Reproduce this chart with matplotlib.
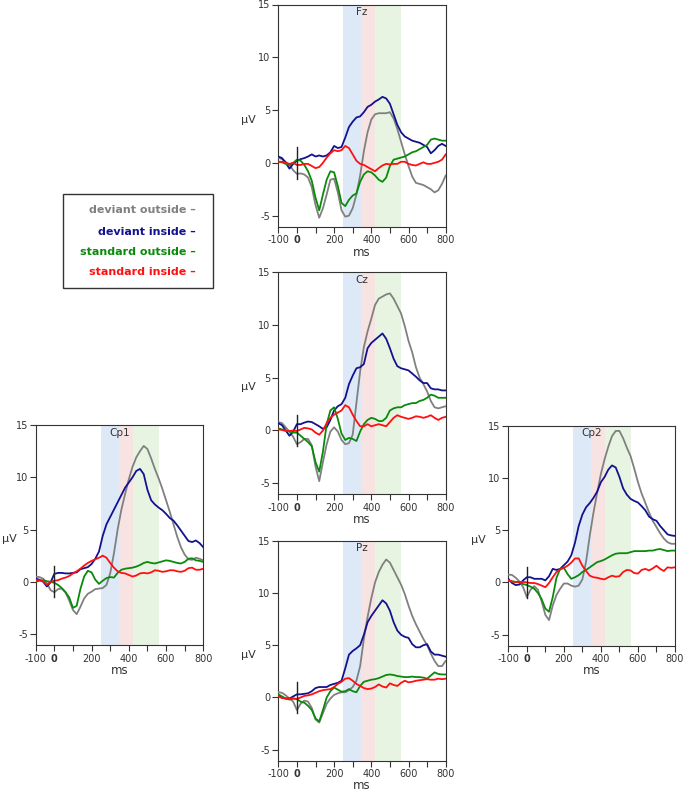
import matplotlib
matplotlib.use('Agg')
import matplotlib.pyplot as plt
from matplotlib.transforms import blended_transform_factory
from matplotlib.patches import Rectangle

# ---------------- data ----------------
time_ms = list(range(-100, 801, 20))

series_names = ["deviant outside", "deviant inside", "standard outside", "standard inside"]
series_colors = ["#808080", "#12128f", "#0a8a0a", "#ff1010"]

fz_dev_out = [0.5, 0.35, 0.1, -0.2, -0.7, -1.05, -1.0, -1.1, -1.4, -2.3,
              -4.0, -5.2, -4.3, -3.0, -1.6, -1.5, -2.8, -4.5, -5.1, -5.0,
              -4.3, -3.0, -1.2, 1.1, 2.9, 4.1, 4.6, 4.7, 4.7, 4.7,
              4.8, 4.2, 3.2, 2.0, 0.8, -0.3, -1.3, -1.9, -2.0, -2.1,
              -2.3, -2.5, -2.8, -2.6, -2.0, -1.2]
fz_dev_in = [0.6, 0.45, 0.0, -0.55, -0.1, 0.2, 0.35, 0.45, 0.6, 0.8,
             0.6, 0.7, 0.6, 0.7, 1.0, 1.6, 1.4, 1.5, 2.4, 3.4,
             3.9, 4.3, 4.4, 4.8, 5.3, 5.5, 5.8, 6.0, 6.25, 6.1,
             5.6, 4.6, 3.6, 2.9, 2.5, 2.3, 2.1, 2.0, 1.9, 1.7,
             1.5, 0.9, 1.2, 1.6, 1.8, 1.6]
fz_std_out = [0.1, 0.05, -0.1, -0.2, 0.0, 0.3, 0.2, -0.2, -0.8, -1.7,
              -3.3, -4.5, -3.0, -1.6, -0.8, -0.9, -2.2, -3.8, -4.1, -3.5,
              -3.1, -2.9, -1.8, -1.1, -0.8, -0.9, -1.2, -1.6, -1.8, -1.4,
              -0.3, 0.3, 0.4, 0.5, 0.6, 0.8, 1.0, 1.1, 1.3, 1.5,
              1.7, 2.2, 2.3, 2.2, 2.1, 2.1]
fz_std_in = [0.1, 0.1, 0.0, -0.1, 0.0, -0.2, -0.2, -0.1, -0.1, -0.3,
             -0.5, -0.4, 0.0, 0.5, 0.9, 1.2, 1.1, 1.2, 1.6, 1.4,
             0.8, 0.2, -0.1, -0.2, -0.4, -0.6, -0.8, -0.5, -0.25, -0.1,
             -0.15, -0.1, -0.1, 0.1, 0.1, -0.1, -0.2, -0.25, -0.1, 0.05,
             -0.1, -0.1, 0.0, 0.1, 0.3, 0.8]

cz_dev_out = [0.8, 0.7, 0.3, -0.1, -0.6, -1.3, -1.1, -0.8, -0.8, -1.4,
              -3.4, -4.8, -3.0, -1.3, -0.1, 0.3, -0.1, -0.9, -1.3, -1.2,
              -0.4, 2.6, 5.6, 7.9, 9.4, 10.6, 11.9, 12.5, 12.7, 12.9,
              13.0, 12.5, 11.8, 11.1, 9.9, 8.5, 7.4, 6.0, 5.0, 4.4,
              3.7, 2.8, 2.2, 2.1, 2.2, 2.3]
cz_dev_in = [0.7, 0.5, 0.0, -0.5, -0.1, 0.6, 0.6, 0.75, 0.85, 0.8,
             0.6, 0.4, 0.15, 0.3, 1.0, 1.9, 2.3, 2.5, 3.1, 4.4,
             5.2, 5.9, 6.0, 6.3, 7.8, 8.3, 8.6, 8.9, 9.2, 8.7,
             7.8, 6.8, 6.1, 5.9, 5.8, 5.7, 5.4, 5.1, 4.75, 4.5,
             4.5, 4.0, 3.9, 3.9, 3.8, 3.8]
cz_std_out = [0.2, 0.1, 0.0, -0.1, -0.2, -0.2, -0.5, -0.8, -1.1, -1.5,
              -3.0, -3.9, -2.0, 0.6, 1.9, 2.2, 1.1, -0.3, -0.9, -0.7,
              -0.8, -1.0, -0.1, 0.6, 1.0, 1.2, 1.1, 0.9, 0.9, 1.2,
              1.9, 2.1, 2.2, 2.2, 2.4, 2.5, 2.6, 2.6, 2.8, 2.9,
              3.1, 3.4, 3.3, 3.1, 3.1, 3.1]
cz_std_in = [0.1, 0.05, -0.05, -0.05, 0.0, -0.05, 0.1, 0.25, 0.2, 0.1,
             -0.2, -0.4, 0.0, 0.7, 1.2, 1.5, 1.7, 1.9, 2.4, 2.2,
             1.5, 0.9, 0.4, 0.4, 0.6, 0.4, 0.5, 0.6, 0.5, 0.4,
             0.8, 1.2, 1.45, 1.3, 1.2, 1.1, 1.2, 1.35, 1.3, 1.2,
             1.3, 1.45, 1.2, 1.0, 1.2, 1.3]

pz_dev_out = [0.5, 0.45, 0.2, -0.1, -0.4, -1.2, -0.6, -0.3, -0.4, -1.0,
              -2.1, -2.4, -1.5, -0.6, -0.1, 0.25, 0.4, 0.5, 0.5, 0.7,
              1.0, 1.6, 3.0, 5.6, 7.7, 9.5, 11.0, 12.0, 12.7, 13.2,
              12.9, 12.2, 11.5, 10.8, 9.9, 8.8, 7.8, 7.0, 6.3, 5.6,
              5.0, 4.2, 3.5, 3.0, 3.0, 3.5]
pz_dev_in = [0.2, 0.0, -0.1, -0.1, 0.1, 0.3, 0.3, 0.35, 0.4, 0.6,
             0.9, 1.0, 1.0, 1.0, 1.2, 1.3, 1.4, 1.6, 2.8, 4.1,
             4.45, 4.7, 5.0, 6.0, 7.2, 7.8, 8.3, 8.8, 9.3, 9.0,
             8.3, 7.2, 6.4, 6.0, 5.8, 5.7, 5.1, 4.8, 4.8, 5.0,
             5.1, 4.4, 4.1, 4.1, 4.0, 3.9]
pz_std_out = [0.3, 0.1, -0.1, -0.2, -0.1, -0.15, -0.4, -0.5, -0.8, -1.2,
              -2.0, -2.3, -1.2, 0.0, 0.6, 0.95, 0.75, 0.55, 0.6, 0.8,
              0.6, 0.5, 1.1, 1.5, 1.6, 1.7, 1.75, 1.85, 2.0, 2.15,
              2.2, 2.15, 2.05, 2.0, 1.95, 1.95, 2.0, 1.95, 1.95, 1.9,
              1.8, 2.1, 2.4, 2.25, 2.2, 2.2]
pz_std_in = [0.1, -0.05, -0.1, -0.1, -0.1, -0.15, 0.0, 0.15, 0.2, 0.3,
             0.45, 0.6, 0.7, 0.75, 0.8, 1.0, 1.3, 1.5, 1.8, 1.85,
             1.6, 1.3, 1.1, 0.9, 0.8, 0.85, 1.0, 1.25, 1.05, 0.95,
             1.35, 1.2, 1.1, 1.4, 1.6, 1.45, 1.5, 1.6, 1.65, 1.7,
             1.75, 1.7, 1.7, 1.8, 1.75, 1.8]

cp1_dev_out = [0.5, 0.45, 0.3, -0.15, -0.8, -1.0, -0.7, -0.65, -1.0, -1.8,
               -2.7, -3.1, -2.4, -1.6, -1.15, -0.95, -0.7, -0.65, -0.6, -0.3,
               0.8, 2.7, 5.0, 6.9, 8.4, 9.8, 11.0, 11.9, 12.5, 13.0,
               12.7, 11.8, 10.8, 9.9, 8.9, 7.8, 6.7, 5.5, 4.3, 3.3,
               2.6, 2.15, 2.1, 2.3, 2.2, 2.05]
cp1_dev_in = [0.3, 0.2, 0.0, -0.45, -0.05, 0.75, 0.85, 0.85, 0.8, 0.8,
              0.85, 0.9, 1.2, 1.3, 1.4, 1.7, 2.2, 2.9, 4.4, 5.5,
              6.2, 6.9, 7.6, 8.3, 9.0, 9.5, 10.0, 10.6, 10.8, 10.3,
              8.8, 7.8, 7.4, 7.1, 6.85, 6.5, 6.1, 5.85, 5.4, 4.9,
              4.4, 3.9, 3.8, 3.95, 3.7, 3.3]
cp1_std_out = [0.0, 0.1, 0.15, 0.05, 0.0, -0.1, -0.3, -0.6, -1.0, -1.5,
               -2.5, -2.3, -0.7, 0.5, 1.05, 0.9, 0.2, -0.2, 0.1, 0.35,
               0.45, 0.4, 0.85, 1.15, 1.25, 1.3, 1.35, 1.45, 1.6, 1.8,
               1.9, 1.8, 1.75, 1.85, 1.95, 2.05, 2.0, 1.9, 1.8, 1.75,
               1.9, 2.2, 2.25, 2.05, 2.0, 1.9]
cp1_std_in = [0.15, 0.15, 0.05, -0.3, 0.0, 0.1, 0.15, 0.3, 0.4, 0.55,
              0.8, 1.0, 1.25, 1.55, 1.8, 2.0, 2.15, 2.3, 2.5, 2.3,
              1.8, 1.35, 1.0, 0.85, 0.8, 0.65, 0.5, 0.6, 0.8, 0.85,
              0.8, 0.9, 1.1, 1.05, 0.95, 1.0, 1.1, 1.1, 1.0, 0.95,
              1.05, 1.3, 1.35, 1.15, 1.15, 1.25]

cp2_dev_out = [0.75, 0.72, 0.45, 0.1, -0.45, -1.4, -0.7, -0.35, -0.7, -1.8,
               -3.1, -3.6, -2.2, -1.2, -0.6, -0.1, -0.1, -0.3, -0.4, -0.3,
               0.3, 2.0, 4.5, 6.7, 8.6, 10.4, 11.8, 13.0, 14.0, 14.5,
               14.5, 13.8, 12.9, 12.1, 10.9, 9.6, 8.5, 7.6, 6.7, 5.9,
               5.3, 4.7, 4.2, 3.85, 3.7, 3.7]
cp2_dev_in = [0.35, -0.05, -0.25, -0.2, 0.2, 0.5, 0.5, 0.35, 0.35, 0.35,
              0.2, 0.6, 1.3, 1.2, 1.3, 1.65, 2.0, 2.6, 3.8, 5.4,
              6.5, 7.2, 7.6, 8.1, 8.7, 9.6, 10.1, 10.8, 11.2, 11.0,
              10.1, 9.0, 8.4, 8.0, 7.8, 7.65, 7.3, 6.9, 6.3, 6.05,
              5.9, 5.4, 5.0, 4.6, 4.5, 4.45]
cp2_std_out = [0.2, 0.1, 0.05, 0.0, -0.15, -0.25, -0.4, -0.6, -1.0, -1.6,
               -2.5, -2.8, -1.4, 0.45, 1.3, 1.4, 0.8, 0.35, 0.5, 0.7,
               1.0, 1.2, 1.45, 1.7, 1.95, 2.05, 2.2, 2.4, 2.6, 2.75,
               2.8, 2.8, 2.8, 2.9, 3.0, 3.0, 3.0, 3.0, 3.05, 3.05,
               3.15, 3.2, 3.1, 3.0, 3.05, 3.05]
cp2_std_in = [0.2, 0.1, 0.05, 0.05, 0.05, 0.0, -0.05, -0.05, -0.15, -0.3,
              -0.45, -0.05, 0.5, 1.0, 1.25, 1.4, 1.6, 1.9, 2.3, 2.3,
              1.6, 1.1, 0.65, 0.5, 0.45, 0.35, 0.3, 0.5, 0.65, 0.55,
              0.6, 1.0, 1.2, 1.15, 0.9, 0.85, 1.2, 1.3, 1.15, 1.35,
              1.6, 1.3, 1.1, 1.45, 1.4, 1.45]

x_ticks = [-100, 0, 100, 200, 300, 400, 500, 600, 700, 800]
x_tick_labels = ["-100", "0", "", "200", "", "400", "", "600", "", "800"]
y_ticks = [-5, 0, 5, 10, 15]
y_tick_labels = ["-5", "0", "5", "10", "15"]
windows = [(250, 345), (345, 420), (420, 560)]
window_colors = ["#dde9f7", "#f8e3e3", "#e8f4e2"]

panels = {
    "Fz": [fz_dev_out, fz_dev_in, fz_std_out, fz_std_in],
    "Cz": [cz_dev_out, cz_dev_in, cz_std_out, cz_std_in],
    "Pz": [pz_dev_out, pz_dev_in, pz_std_out, pz_std_in],
    "Cp1": [cp1_dev_out, cp1_dev_in, cp1_std_out, cp1_std_in],
    "Cp2": [cp2_dev_out, cp2_dev_in, cp2_std_out, cp2_std_in],
}

# ---------------- layout ----------------
W, H = 685, 794
fig = plt.figure(figsize=(W / 100, H / 100), dpi=100)
plt.rcParams['font.family'] = ['DejaVu Sans']

def frac(left, top, right, bottom):
    return [left / W, 1 - bottom / H, (right - left) / W, (bottom - top) / H]

positions = {
    "Fz": frac(278.3, 4.5, 445.7, 226.7),
    "Cz": frac(278.3, 272.3, 445.7, 494.3),
    "Pz": frac(278.3, 540.7, 445.7, 760.7),
    "Cp1": frac(35.7, 425.0, 203.3, 645.0),
    "Cp2": frac(508.3, 425.7, 675.0, 645.7),
}
ylabel_offset = {"Fz": -0.18, "Cz": -0.18, "Pz": -0.18, "Cp1": -0.16, "Cp2": -0.18}

tick_color = "#333333"
for name, data in panels.items():
    ax = fig.add_axes(positions[name])
    for (a, b), c in zip(windows, window_colors):
        ax.axvspan(a, b, color=c, lw=0, zorder=0)
    for vals, col in zip(data, series_colors):
        ax.plot(time_ms, vals, color=col, lw=1.3, zorder=3)
    ax.plot([0, 0], [-1.5, 1.5], color="#222222", lw=1.0, zorder=4)
    ax.set_xlim(-100, 800)
    ax.set_ylim(-6.05, 15)
    ax.set_xticks(x_ticks)
    ax.set_xticklabels(x_tick_labels)
    ax.set_yticks(y_ticks)
    ax.set_yticklabels(y_tick_labels)
    for lbl in ax.get_xticklabels():
        if lbl.get_text() == "0":
            lbl.set_fontweight("bold")
    ax.tick_params(axis='x', direction='out', length=4, width=0.8, pad=2.3,
                   labelsize=7, colors=tick_color)
    ax.tick_params(axis='y', direction='out', length=4, width=0.8, pad=1.5,
                   labelsize=7, colors=tick_color)
    for sp in ax.spines.values():
        sp.set_color("#333333")
        sp.set_linewidth(0.8)
    tr = blended_transform_factory(ax.transAxes, ax.transData)
    ax.text(ylabel_offset[name], 4.1, "µV", transform=tr, ha='center', va='center',
            fontsize=8, color=tick_color)
    ax.text(0.5, -0.114, "ms", transform=ax.transAxes, ha='center', va='center',
            fontsize=8.5, color=tick_color)
    tr2 = blended_transform_factory(ax.transData, ax.transAxes)
    ax.text(350, 0.965, name, transform=tr2, ha='center', va='center',
            fontsize=7.5, color=tick_color, zorder=5)

# legend box
fig.patches.append(Rectangle((63.3 / W, 1 - 288 / H), 150 / W, 94 / H,
                             transform=fig.transFigure, fill=False,
                             edgecolor="#333333", lw=1.0))
legend_y = [210, 231.7, 251.7, 271.7]
for nm, col, yy in zip(series_names, series_colors, legend_y):
    fig.text(196 / W, 1 - yy / H, nm + " \u2013", ha='right', va='center',
             fontsize=8, fontweight='bold', color=col)

fig.savefig("out.png", dpi=100)
